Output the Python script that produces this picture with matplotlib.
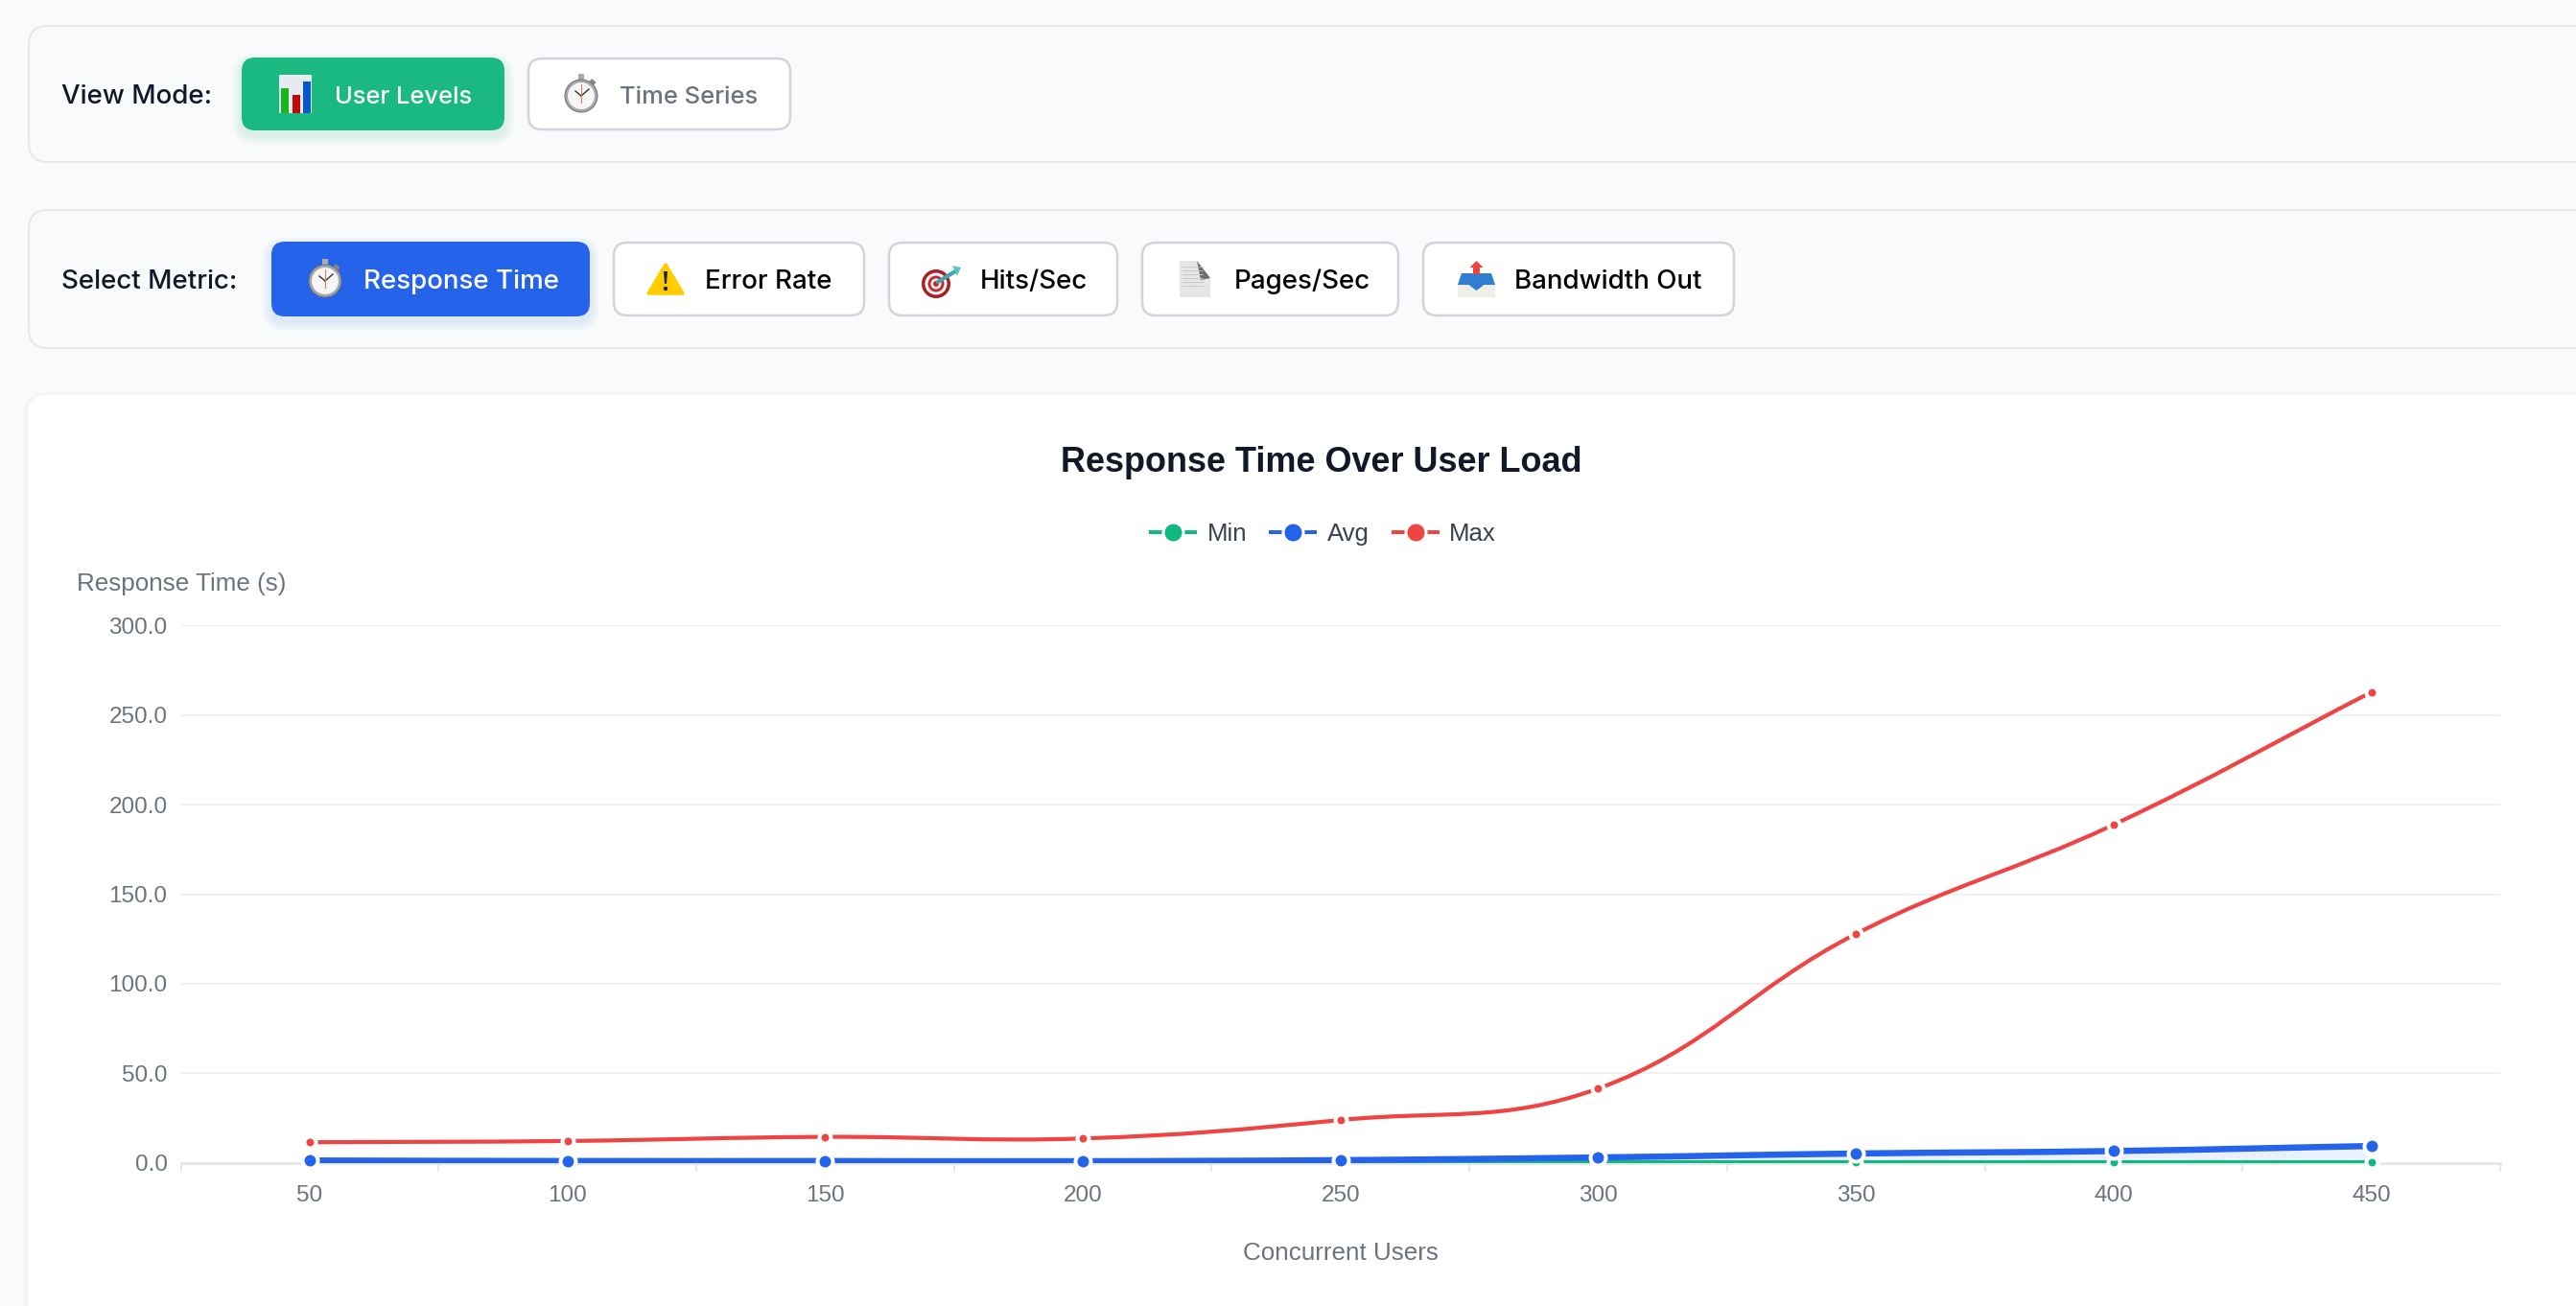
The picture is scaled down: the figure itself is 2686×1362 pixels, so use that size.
import matplotlib
matplotlib.use("Agg")
import matplotlib.pyplot as plt
from matplotlib.lines import Line2D
from matplotlib.patches import Circle, FancyBboxPatch, PathPatch, Polygon, Rectangle
from matplotlib.path import Path
import numpy as np

# data
users = [50, 100, 150, 200, 250, 300, 350, 400, 450]
resp_min = [0.4, 0.4, 0.4, 0.4, 0.4, 0.4, 0.4, 0.4, 0.4]
resp_avg = [1.3, 1.0, 1.0, 0.9, 1.5, 3.0, 5.2, 6.6, 9.4]
resp_max = [11.5, 12.2, 14.5, 13.6, 23.9, 41.5, 127.8, 188.8, 262.8]
y_ticks = [0, 50, 100, 150, 200, 250, 300]
x_edges = [25, 75, 125, 175, 225, 275, 325, 375, 425, 475]

W, H = 2686, 1362
PX = 0.72  # px -> pt at dpi 100

GREEN = "#10b981"
BLUE = "#2563eb"
RED = "#ef4444"
DARK = "#111827"
GREY = "#6b7280"
FONT_UI = ["Inter", "DejaVu Sans"]
FONT_CHART = ["Liberation Sans", "DejaVu Sans"]

fig = plt.figure(figsize=(W / 100, H / 100), dpi=100, facecolor="#f9fafb")
ui = fig.add_axes([0, 0, 1, 1])
ui.set_xlim(0, W)
ui.set_ylim(H, 0)
ui.axis("off")


def box(x0, y0, x1, y1, r, fc, ec="none", lw=0, z=1):
    p = FancyBboxPatch((x0, y0), x1 - x0, y1 - y0, boxstyle=f"round,pad=0,rounding_size={r}",
                       fc=fc, ec=ec, lw=lw * PX, zorder=z)
    ui.add_patch(p)
    return p


def shadow(x0, y0, x1, y1, r, color, n=6, spread=10, dy=5, alpha=0.018):
    for i in range(n):
        s = spread * (i + 1) / n
        p = box(x0 - s, y0 - s + dy, x1 + s, y1 + s + dy, r + s, color, z=1.5)
        p.set_alpha(alpha)


def stopwatch(cx, cy):
    ui.add_patch(Rectangle((cx - 3, cy - 21), 6, 6, fc="#a8abb0", zorder=3))
    ui.add_patch(Rectangle((cx + 11, cy - 16), 6, 4, angle=40, fc="#85878c", zorder=3))
    ui.add_patch(Circle((cx, cy + 2), 17, fc="#a3a6aa", ec="#6e7175", lw=0.7, zorder=3))
    ui.add_patch(Circle((cx, cy + 2), 14, fc="#f5f5f5", zorder=3.1))
    ui.plot([cx, cx + 8], [cy + 2, cy - 5], color="#333333", lw=1.0, zorder=3.2)
    ui.plot([cx, cx - 6], [cy + 2, cy - 3], color="#333333", lw=1.0, zorder=3.2)
    ui.plot([cx, cx], [cy - 10, cy + 9], color="#d98060", lw=0.8, zorder=3.2)


def bars_icon(cx, cy):
    ui.add_patch(Rectangle((cx - 17, cy - 20), 34, 40, fc="#e6ebf2", zorder=3))
    for dx, top, col in [(-15, -6, "#16b81c"), (-3, 1, "#c40808"), (8, -13, "#0a58c8")]:
        ui.add_patch(Rectangle((cx + dx, cy + top), 8, 20 - top, fc=col, zorder=3.1))


def warning(cx, cy):
    ui.add_patch(Polygon([[cx, cy - 15], [cx + 18, cy + 15], [cx - 18, cy + 15]], closed=True,
                         fc="#ffcc00", ec="#ffcc00", lw=2.5, joinstyle="round", zorder=3))
    ui.add_patch(Polygon([[cx - 2, cy - 8], [cx + 2, cy - 8], [cx + 1, cy + 5], [cx - 1, cy + 5]],
                         closed=True, fc="#222222", zorder=3.1))
    ui.add_patch(Circle((cx, cy + 10), 2.2, fc="#222222", zorder=3.1))


def target(cx, cy):
    for r, col in [(15, "#b01c22"), (11.5, "#ffffff"), (8.5, "#d0262c"), (5.5, "#ffffff"), (3, "#d0262c")]:
        ui.add_patch(Circle((cx, cy), r, fc=col, zorder=3))
    ui.plot([cx + 2, cx + 20], [cy - 2, cy - 13], color="#3fa7a8", lw=3.0, solid_capstyle="round", zorder=3.2)
    ui.add_patch(Polygon([[cx + 17, cy - 19], [cx + 26, cy - 17], [cx + 22, cy - 8]], closed=True,
                         fc="#5cc0c4", zorder=3.3))


def document(x0, y0, x1, y1):
    ui.add_patch(Polygon([[x0, y0], [x1 - 14, y0], [x1, y0 + 18], [x1, y1], [x0, y1]], closed=True,
                         fc="#e6e6e6", zorder=3))
    ui.add_patch(Polygon([[x1 - 14, y0], [x1, y0 + 18], [x1 - 10, y0 + 20]], closed=True, fc="#6d6d6d", zorder=3.1))
    for y in np.arange(y0 + 6, y1 - 10, 4):
        ui.plot([x0 + 3, x1 - 8], [y, y], color="#c4c4c4", lw=0.6, zorder=3.2)


def outbox(x0, y0, x1, y1):
    cx = (x0 + x1) / 2
    ui.add_patch(Polygon([[cx, y0], [cx + 7, y0 + 7], [cx + 3.5, y0 + 7], [cx + 3.5, y0 + 14],
                          [cx - 3.5, y0 + 14], [cx - 3.5, y0 + 7], [cx - 7, y0 + 7]], closed=True,
                         fc="#f0443a", zorder=3.2))
    ui.add_patch(Rectangle((x0, y0 + 24), x1 - x0, y1 - y0 - 24, fc="#efeee9", zorder=3))
    ui.add_patch(Polygon([[x0 + 4, y0 + 13], [x1 - 4, y0 + 13], [x1, y0 + 25], [cx + 8, y0 + 25], [cx, y0 + 31],
                          [cx - 8, y0 + 25], [x0, y0 + 25]], closed=True, fc="#2f7fd0", zorder=3.1))


def label(x, y, s, color, size=27.7, weight="medium"):
    ui.text(x, y, s, color=color, fontsize=size * PX, family=FONT_UI, weight=weight, ha="left", va="center", zorder=4)


# page panels
box(30, 27, 2760, 169, 20, "#f9fafb", "#e5e7eb", 2)
box(30, 219, 2760, 363, 20, "#f9fafb", "#e5e7eb", 2)
label(64, 101, "View Mode:", DARK)
label(64, 294, "Select Metric:", DARK)

# buttons
shadow(252, 60, 526, 136, 14, GREEN)
box(252, 60, 526, 136, 14, "#19b981", z=2)
box(551, 61, 824, 135, 14, "white", "#d1d5db", 2.5, z=2)
shadow(283, 252, 615, 330, 14, BLUE)
box(283, 252, 615, 330, 14, BLUE, z=2)
for x0, x1 in [(640, 901), (927, 1165), (1191, 1458), (1484, 1808)]:
    box(x0, 253, x1, 329, 14, "white", "#d1d5db", 2.5, z=2)

label(349, 101, "User Levels", "white", 25.5)
label(646, 101, "Time Series", GREY, 25.5)
label(379, 294, "Response Time", "white")
label(735, 294, "Error Rate", "black")
label(1022, 294, "Hits/Sec", "black")
label(1287, 294, "Pages/Sec", "black")
label(1579, 294, "Bandwidth Out", "black")

bars_icon(308, 98)
stopwatch(606, 98)
stopwatch(339, 291)
warning(694, 291)
target(976, 296)
document(1230, 272, 1262, 310)
outbox(1520, 272, 1559, 310)

# chart card
shadow(29, 412, 2760, 1500, 20, "#000000", n=4, spread=6, dy=2, alpha=0.006)
box(29, 412, 2760, 1500, 20, "white", z=2)

# chart axes, pixel rect from the picture
left, right, top, bottom = 188.5, 2607.0, 652.3, 1212.7
ax = fig.add_axes([left / W, 1 - bottom / H, (right - left) / W, (bottom - top) / H], facecolor="none")
ax.set_xlim(25, 475)
ax.set_ylim(0, 300)


def spline(xs, ys, tension=0.4):
    # same bezier control points as a chart.js line with tension, worked out in pixels
    pts = ax.transData.transform(np.column_stack([xs, ys]))
    verts = [pts[0]]
    codes = [Path.MOVETO]
    n = len(pts)
    for i in range(n - 1):
        p1, p2 = pts[i], pts[i + 1]
        p0 = pts[i - 1] if i > 0 else p1
        p3 = pts[i + 2] if i + 2 < n else p2
        d01, d12, d23 = np.hypot(*(p1 - p0)), np.hypot(*(p2 - p1)), np.hypot(*(p3 - p2))
        c1 = p1 + tension * d12 / (d01 + d12) * (p2 - p0)
        c2 = p2 - tension * d12 / (d12 + d23) * (p3 - p1)
        verts += [c1, c2, p2]
        codes += [Path.CURVE4] * 3
    return Path(ax.transData.inverted().transform(np.array(verts)), codes)


series = [
    ("Min", resp_min, GREEN, 4, 12, 2),
    ("Avg", resp_avg, BLUE, 6.5, 16, 3),
    ("Max", resp_max, RED, 4.2, 12, 3),
]
handles = []
for i, (name, vals, col, lw_px, ms_px, z) in enumerate(series):
    path = spline(users, vals)
    if name == "Avg":
        area = Path(np.vstack([path.vertices, [[users[-1], 0], [users[0], 0], [users[0], vals[0]]]]),
                    list(path.codes) + [Path.LINETO, Path.LINETO, Path.CLOSEPOLY])
        ax.add_patch(PathPatch(area, fc=col, ec="none", alpha=0.09, zorder=1.5))
    ax.add_patch(PathPatch(path, fc="none", ec=col, lw=lw_px * PX, zorder=2 + z, capstyle="butt"))
    ax.plot(users, vals, ls="none", marker="o", ms=ms_px * PX, mfc=col, mec="white", mew=4 * PX,
            zorder=2.5 + z, clip_on=False)
    handles.append(Line2D([0], [0], color=col, lw=4 * PX, marker="o", ms=21 * PX, mfc=col, mec="white",
                          mew=3 * PX, solid_capstyle="butt", label=name))

for side in ["top", "left", "right"]:
    ax.spines[side].set_visible(False)
ax.spines["bottom"].set_color("#e5e7eb")
ax.spines["bottom"].set_linewidth(3 * PX)
ax.grid(axis="y", color="#f0f0f2", lw=2 * PX, zorder=0)
ax.set_axisbelow(True)

ax.set_yticks(y_ticks)
ax.set_yticklabels([f"{v:.1f}" for v in y_ticks], family=FONT_CHART, fontsize=17.5, color=GREY)
ax.tick_params(axis="y", length=0, pad=10)
ax.set_xticks(users)
ax.set_xticklabels([str(u) for u in users], family=FONT_CHART, fontsize=17.5, color=GREY)
ax.set_xticks(x_edges, minor=True)
ax.tick_params(axis="x", which="major", length=0, pad=17)
ax.tick_params(axis="x", which="minor", length=9 * PX, width=2 * PX, color="#e5e7eb")

ax.set_xlabel("Concurrent Users", family=FONT_CHART, fontsize=18.7, color=GREY)
ax.xaxis.set_label_coords(0.5, -(1306.5 - bottom) / (bottom - top), transform=ax.transAxes)
ax.xaxis.label.set_va("center")
ax.set_ylabel("Response Time (s)", family=FONT_CHART, fontsize=18.7, color=GREY, rotation=0, ha="left", va="center")
ax.yaxis.set_label_coords((80 - left) / (right - left), (bottom - 609) / (bottom - top), transform=ax.transAxes)

ax.set_title("Response Time Over User Load", family=FONT_CHART, fontsize=25.9, weight="bold", color=DARK,
             x=(1378 - left) / (right - left), y=(bottom - 491) / (bottom - top), va="center")

leg = ax.legend(handles=handles, ncol=3, frameon=False, loc="center",
                bbox_to_anchor=((1379 - left) / (right - left), (bottom - 557) / (bottom - top)),
                handlelength=1.95, handletextpad=0.4, columnspacing=0.9, borderpad=0,
                prop={"family": FONT_CHART, "size": 18.5})
for t in leg.get_texts():
    t.set_color("#374151")

fig.savefig("out.png", dpi=100, facecolor=fig.get_facecolor())
